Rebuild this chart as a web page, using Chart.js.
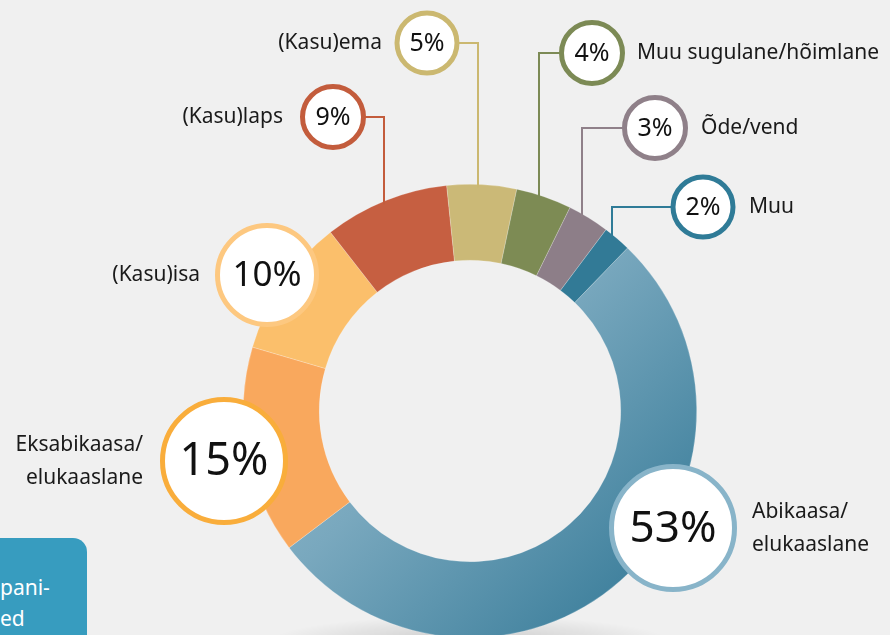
<!DOCTYPE html>
<html>
<head>
<meta charset="utf-8">
<script src="https://cdn.jsdelivr.net/npm/chart.js@4"></script>
<style>
  html, body { margin:0; padding:0; background:#f0f0f0; overflow:hidden; width:890px; height:635px; }
  #wrap { position:absolute; left:0; top:0; width:890px; height:650px; }
  #box { position:absolute; left:0; top:538px; width:87px; height:120px; background:#379cbf;
         border-top-right-radius:14px; color:#fff; font-family:"Noto Sans", sans-serif; font-size:21px;
         line-height:31px; padding-top:34px; box-sizing:border-box; white-space:nowrap; }
</style>
</head>
<body>
<div id="wrap"><canvas id="c" width="890" height="650"></canvas></div>
<div id="box">pani-<br>ed</div>
<script>
// ---- data ----
const categories = ['Abikaasa/elukaaslane','Eksabikaasa/elukaaslane','(Kasu)isa','(Kasu)laps','(Kasu)ema','Muu sugulane/hõimlane','Õde/vend','Muu'];
const labelLines = [['Abikaasa/','elukaaslane'],['Eksabikaasa/','elukaaslane'],['(Kasu)isa'],['(Kasu)laps'],['(Kasu)ema'],['Muu sugulane/hõimlane'],['Õde/vend'],['Muu']];
const shares = [53, 15, 10, 9, 5, 4, 3, 2];

// ---- styles / layout ----
const segColors = ['#6fa2ba','#f9a85d','#fbbf6b','#c65f41','#cbb977','#7d8b54','#8d7e88','#327a96'];
const callouts = [
  {cx:673, cy:528, r:61.5, lw:5, border:'#88b4c9', font:44, lx:752, ly:512, align:'left',  line:null},
  {cx:224, cy:461, r:61.5, lw:5, border:'#f9ad3b', font:45, lx:143, ly:445, align:'right', line:null},
  {cx:267, cy:275, r:49.5, lw:5, border:'#fdc880', font:35, lx:200, ly:275, align:'right', line:null},
  {cx:333, cy:117, r:30.5, lw:5, border:'#c35c3c', font:25, lx:283, ly:117, align:'right', line:'right', lineX:384},
  {cx:427, cy:43,  r:30,   lw:5, border:'#cbb870', font:25, lx:382, ly:43,  align:'right', line:'right', lineX:478},
  {cx:592, cy:53,  r:30.5, lw:5, border:'#7c8a55', font:25, lx:637, ly:53,  align:'left',  line:'left',  lineX:539},
  {cx:655, cy:128, r:30.5, lw:5, border:'#8f8089', font:25, lx:701, ly:128, align:'left',  line:'left',  lineX:582},
  {cx:703, cy:207, r:30,   lw:5, border:'#2f7b97', font:25, lx:749, ly:207, align:'left',  line:'left',  lineX:612}
];
const FONT = '"Noto Sans", sans-serif';

const calloutPlugin = {
  id: 'callouts',
  beforeDatasetsDraw(chart) {
    const ctx = chart.ctx;
    const arc = chart.getDatasetMeta(0).data[0];
    if (!arc) return;
    ctx.save();
    ctx.translate(arc.x, arc.y + arc.outerRadius + 4);
    ctx.scale(1, 0.13);
    const g = ctx.createRadialGradient(0, 0, 0, 0, 0, 200);
    g.addColorStop(0, 'rgba(0,0,0,0.16)');
    g.addColorStop(1, 'rgba(0,0,0,0)');
    ctx.fillStyle = g;
    ctx.beginPath(); ctx.arc(0, 0, 200, 0, Math.PI * 2); ctx.fill();
    ctx.restore();
  },
  afterDatasetsDraw(chart) {
    const ctx = chart.ctx;
    const meta = chart.getDatasetMeta(0);
    ctx.save();
    // connectors: horizontal from the circle, then down to the ring's outer edge
    callouts.forEach((c, i) => {
      if (!c.line) return;
      const a = meta.data[i];
      const px = c.lineX;
      const dx = px - a.x;
      const py = a.y - Math.sqrt(Math.max(a.outerRadius * a.outerRadius - dx * dx, 0));
      const sx = c.line === 'right' ? c.cx + c.r : c.cx - c.r;
      ctx.strokeStyle = c.border; ctx.lineWidth = 2;
      ctx.beginPath();
      ctx.moveTo(sx, c.cy); ctx.lineTo(px, c.cy); ctx.lineTo(px, py + 3);
      ctx.stroke();
    });
    // circles and texts
    callouts.forEach((c, i) => {
      ctx.beginPath(); ctx.arc(c.cx, c.cy, c.r, 0, Math.PI * 2);
      ctx.fillStyle = '#ffffff'; ctx.fill();
      ctx.lineWidth = c.lw; ctx.strokeStyle = c.border; ctx.stroke();
      ctx.fillStyle = '#111';
      ctx.font = c.font + 'px ' + FONT;
      ctx.textAlign = 'center'; ctx.textBaseline = 'middle';
      ctx.fillText(shares[i] + '%', c.cx, c.cy + 1);
      ctx.font = '21px ' + FONT;
      ctx.fillStyle = '#1a1a1a';
      ctx.textAlign = c.align;
      labelLines[i].forEach((t, k) => ctx.fillText(t, c.lx, c.ly + k * 33));
    });
    ctx.restore();
  }
};

new Chart(document.getElementById('c'), {
  type: 'doughnut',
  data: {
    labels: categories,
    datasets: [{
      data: shares,
      backgroundColor: (sc) => {
        const i = sc.dataIndex;
        const ca = sc.chart.chartArea;
        if (i === 0 && ca) {
          const g = sc.chart.ctx.createLinearGradient(ca.left + 60, ca.top + 60, ca.right - 40, ca.bottom - 40);
          g.addColorStop(0, '#9cc2d4');
          g.addColorStop(0.45, '#79a8be');
          g.addColorStop(1, '#3a7d9a');
          return g;
        }
        return segColors[i];
      },
      borderWidth: 0.6,
      borderColor: 'rgba(255,255,255,0.35)',
      hoverOffset: 0
    }]
  },
  options: {
    responsive: false,
    animation: false,
    rotation: 44,
    cutout: '66.5%',
    layout: { padding: { left: 243, right: 193, top: 184, bottom: 12 } },
    plugins: { legend: { display: false }, tooltip: { enabled: false } },
    events: []
  },
  plugins: [calloutPlugin]
});
</script>
</body>
</html>
